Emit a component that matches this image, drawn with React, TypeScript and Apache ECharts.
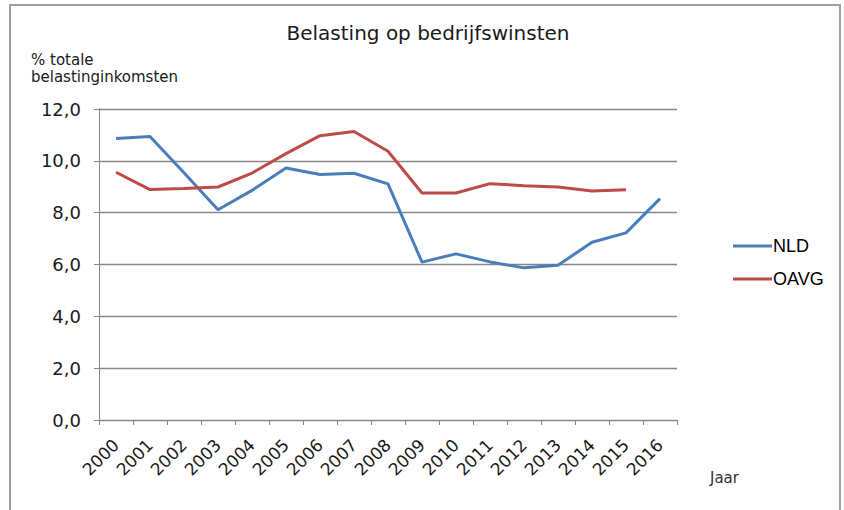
import React, { useEffect, useRef } from "react";
import * as echarts from "echarts";

const years = ["2000","2001","2002","2003","2004","2005","2006","2007","2008","2009","2010","2011","2012","2013","2014","2015","2016"];
const nld = [10.86, 10.94, 9.54, 8.11, 8.86, 9.72, 9.47, 9.52, 9.11, 6.09, 6.41, 6.10, 5.87, 5.97, 6.86, 7.22, 8.54];
const oavg = [9.56, 8.89, 8.93, 8.99, 9.53, 10.28, 10.97, 11.13, 10.37, 8.76, 8.76, 9.12, 9.04, 8.99, 8.84, 8.88, null];
const seriesNames = ["NLD", "OAVG"];
const titleText = "Belasting op bedrijfswinsten";
const yAxisTitle = ["% totale", "belastinginkomsten"];
const xAxisTitle = "Jaar";

const FONT = "DejaVu Sans";

export default function App() {
  const ref = useRef<HTMLDivElement>(null);
  useEffect(() => {
    document.body.style.margin = "0";
    const chart = echarts.init(ref.current!, null, { renderer: "svg" });
    chart.setOption({
      animation: false,
      backgroundColor: "#ffffff",
      grid: { left: 99, top: 109, width: 578, height: 311, containLabel: false },
      legend: {
        orient: "vertical",
        left: 728,
        top: 232,
        itemWidth: 39,
        itemHeight: 3,
        itemGap: 15,
        icon: "rect",
        textStyle: { fontFamily: "Liberation Sans", fontSize: 18, color: "#000", padding: [0, 0, 0, -4] },
        data: seriesNames,
      },
      xAxis: {
        type: "category",
        data: years,
        boundaryGap: true,
        axisLine: { lineStyle: { color: "#868686", width: 1 } },
        axisTick: { show: true, length: 5, alignWithLabel: false, lineStyle: { color: "#868686" } },
        axisLabel: { rotate: 45, fontFamily: FONT, fontSize: 17, color: "#1a1a1a", margin: 22, interval: 0 },
      },
      yAxis: {
        type: "value",
        min: 0,
        max: 12,
        interval: 2,
        axisLine: { show: true, lineStyle: { color: "#868686", width: 1 } },
        axisTick: { show: true, inside: false, length: 5, lineStyle: { color: "#868686" } },
        splitLine: { show: true, lineStyle: { color: "#868686", width: 1.3 } },
        axisLabel: {
          fontFamily: FONT,
          fontSize: 18,
          color: "#1a1a1a",
          margin: 18,
          formatter: (v: number) => v.toFixed(1).replace(".", ","),
        },
      },
      series: [
        {
          name: seriesNames[0],
          type: "line",
          data: nld,
          symbol: "none",
          lineStyle: { color: "#4a7ebb", width: 3 },
          itemStyle: { color: "#4a7ebb" },
        },
        {
          name: seriesNames[1],
          type: "line",
          data: oavg,
          symbol: "none",
          lineStyle: { color: "#be4b48", width: 3 },
          itemStyle: { color: "#be4b48" },
        },
      ],
      graphic: [
        {
          type: "rect",
          shape: { x: 10, y: 5, width: 830, height: 520 },
          style: { fill: "none", stroke: "#a0a0a0", lineWidth: 2 },
          silent: true,
        },
        {
          type: "text",
          x: 428,
          y: 33,
          style: { text: titleText, fontFamily: FONT, fontSize: 20, fill: "#1a1a1a", align: "center", verticalAlign: "middle" },
        },
        {
          type: "text",
          x: 31,
          y: 60,
          style: { text: yAxisTitle[0], fontFamily: FONT, fontSize: 15, fill: "#1a1a1a", align: "left", verticalAlign: "middle" },
        },
        {
          type: "text",
          x: 31,
          y: 77,
          style: { text: yAxisTitle[1], fontFamily: FONT, fontSize: 15, fill: "#1a1a1a", align: "left", verticalAlign: "middle" },
        },
        {
          type: "text",
          x: 710,
          y: 478,
          style: { text: xAxisTitle, fontFamily: FONT, fontSize: 15, fill: "#333", align: "left", verticalAlign: "middle" },
        },
      ],
    });
    return () => chart.dispose();
  }, []);
  return <div ref={ref} style={{ width: 844, height: 510, position: "fixed", left: 0, top: 0 }} />;
}
